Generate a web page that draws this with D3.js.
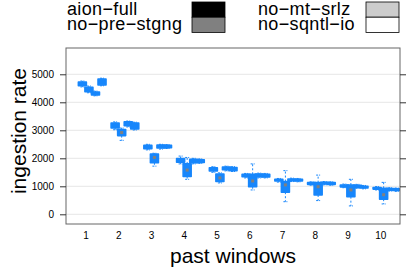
<!DOCTYPE html>
<html><head><meta charset="utf-8">
<script src="https://cdn.jsdelivr.net/npm/d3@7"></script>
<style>body{margin:0;background:#fff}svg{display:block}text{font-family:"Liberation Sans",Arial,sans-serif}</style>
</head><body><svg id="c" width="407" height="271"></svg>
<script>
// Data: five-number summaries [low whisker, q1, median, q3, high whisker] per past window
const windows = ["1","2","3","4","5","6","7","8","9","10"];
const seriesNames = ["aion\u2212full","no\u2212pre\u2212stgng","no\u2212mt\u2212srlz","no\u2212sqntl\u2212io"];
const legendFills = ["#000000","#808080","#cccccc","#ffffff"];
const yTicks = [0,1000,2000,3000,4000,5000];
const aionFull = [
  [4550,4590,4650,4720,4760],[3020,3080,3170,3260,3300],[2300,2340,2400,2460,2500],
  [1800,1860,1920,1990,2080],[1500,1550,1600,1660,1700],[1300,1340,1390,1430,1460],
  [1150,1190,1220,1250,1280],[1040,1070,1100,1130,1160],[950,980,1010,1045,1080],
  [870,900,930,960,990]];
const noPreStgng = [
  [4340,4380,4450,4540,4580],[2640,2810,2920,3030,3080],[1720,1840,2030,2150,2180],
  [1250,1350,1580,1800,2030],[1120,1170,1300,1440,1480],[870,985,1190,1430,1800],
  [450,790,1050,1170,1560],[490,690,985,1130,1400],[300,630,870,1045,1250],
  [370,540,700,930,1140]];
const noMtSrlz = [
  [4230,4260,4310,4365,4400],[3120,3160,3230,3300,3330],[2330,2370,2420,2470,2500],
  [1800,1840,1900,1960,2000],[1550,1590,1640,1690,1720],[1300,1340,1390,1440,1470],
  [1170,1200,1230,1260,1290],[1050,1080,1110,1140,1170],[930,960,1000,1040,1070],
  [830,860,890,920,950]];
const noSqntlIo = [
  [4590,4620,4730,4830,4860],[3010,3050,3160,3260,3290],[2350,2380,2420,2460,2490],
  [1820,1850,1900,1950,1980],[1530,1560,1610,1670,1700],[1300,1330,1380,1430,1460],
  [1160,1190,1220,1250,1280],[1040,1070,1100,1130,1160],[910,940,970,1000,1030],
  [820,850,880,910,940]];
const seriesData = [aionFull, noPreStgng, noMtSrlz, noSqntlIo];
const seriesOffsets = [-0.1, 0.1, 0.3, 0.5];

const svg = d3.select("#c");
const L = 66, R = 400, T = 48, B = 224;
const blue = "#1786fb";

const x = d3.scaleLinear().domain([0.4, 10.6]).range([L, R]);
const y = d3.scaleLinear().domain([-346, 5939]).range([B, T]);

svg.append("clipPath").attr("id","clip").append("rect").attr("x",L).attr("y",T).attr("width",R-L).attr("height",B-T);

// gridlines
svg.append("g").selectAll("line").data(yTicks).join("line")
  .attr("x1",L).attr("x2",R).attr("y1",d=>y(d)).attr("y2",d=>y(d))
  .attr("stroke","#e6e6e6").attr("stroke-width",1);

// boxes
const gBox = svg.append("g").attr("clip-path","url(#clip)");
const bw = 8;
seriesData.forEach((arr, si) => {
  arr.forEach((s, wi) => {
    const cx = x(wi + 1 + seriesOffsets[si]);
    const [lo,q1,md,q3,hi] = s;
    const g = gBox.append("g");
    [[q3,hi],[q1,lo]].forEach(([a,b]) => {
      g.append("line").attr("x1",cx).attr("x2",cx).attr("y1",y(a)).attr("y2",y(b))
        .attr("stroke",blue).attr("stroke-width",1).attr("stroke-dasharray","2,2");
      g.append("line").attr("x1",cx-bw/4).attr("x2",cx+bw/4).attr("y1",y(b)).attr("y2",y(b))
        .attr("stroke",blue).attr("stroke-width",1).attr("stroke-dasharray","2,1");
    });
    const h = Math.max(y(q1)-y(q3), 1);
    g.append("rect").attr("x",cx-bw/2).attr("y",y(q3)).attr("width",bw).attr("height",h)
      .attr("fill",blue).attr("stroke",blue).attr("stroke-width",1.6).attr("stroke-linejoin","round");
    if (h > 6) {
      g.append("rect").attr("x",cx-1.5).attr("y",y(md)-1.5).attr("width",3).attr("height",3).attr("fill","#808080");
    }
  });
});

// frame
svg.append("rect").attr("x",L).attr("y",T).attr("width",R-L).attr("height",B-T)
  .attr("fill","none").attr("stroke","#666").attr("stroke-width",1);

// y axis left and right
const yAxisL = svg.append("g").attr("transform",`translate(${L},0)`)
  .call(d3.axisLeft(y).tickValues(yTicks).tickSize(6).tickPadding(6).tickFormat(d3.format("d")));
const yAxisR = svg.append("g").attr("transform",`translate(${R},0)`)
  .call(d3.axisRight(y).tickValues(yTicks).tickSize(6).tickFormat(""));
[yAxisL,yAxisR].forEach(a=>{a.select(".domain").remove();a.selectAll("line").attr("stroke","#333");});
yAxisL.selectAll("text").attr("font-size",10).attr("fill","#000").style("font-family","Liberation Sans, Arial, sans-serif");

// x axis labels
const xAxis = svg.append("g").attr("transform",`translate(0,${B})`)
  .call(d3.axisBottom(x).tickValues(d3.range(1,11)).tickSize(0).tickPadding(8).tickFormat((d,i)=>windows[i]));
xAxis.select(".domain").remove();
xAxis.selectAll("text").attr("font-size",10).attr("fill","#000").style("font-family","Liberation Sans, Arial, sans-serif");

// titles
svg.append("text").attr("x",233).attr("y",263).attr("text-anchor","middle").attr("font-size",21).text("past windows");
svg.append("text").attr("transform","translate(26,131) rotate(-90)").attr("text-anchor","middle").attr("font-size",21).text("ingestion rate");

// legend
const legX = [67, 258], rectX = [192, 366];
seriesNames.forEach((n,i)=>{
  const col = Math.floor(i/2), row = i%2;
  svg.append("text").attr("x",legX[col]).attr("y",15+row*14.5).attr("font-size",18)
    .attr("letter-spacing",0.35).text(n);
  svg.append("rect").attr("x",rectX[col]).attr("y",2+row*15.2).attr("width",33).attr("height",15.2)
    .attr("fill",legendFills[i]).attr("stroke","#000").attr("stroke-width",0.8);
});
</script></body></html>
